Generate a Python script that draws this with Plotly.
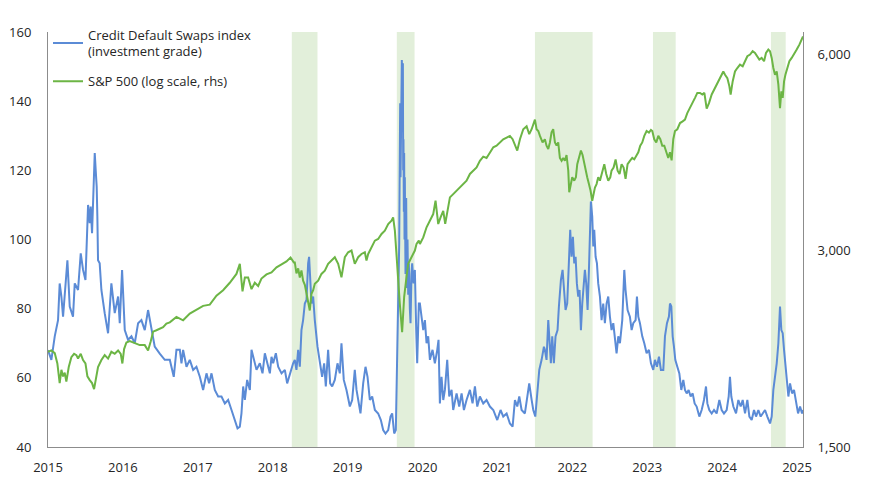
import math
import plotly.graph_objects as go

# x values are decimal years (the year labels sit in the middle of each year)
year_labels = ["2015", "2016", "2017", "2018", "2019", "2020",
               "2021", "2022", "2023", "2024", "2025"]
year_label_pos = [2015.5, 2016.5, 2017.5, 2018.5, 2019.5, 2020.5,
                  2021.5, 2022.5, 2023.5, 2024.5, 2025.5]

# shaded periods
band_start = [2018.755, 2020.157, 2022.001, 2023.577, 2025.152]
band_end = [2019.098, 2020.394, 2022.771, 2023.880, 2025.349]

# Credit Default Swaps index (investment grade), lhs
cds_t_2015 = [2015.500, 2015.545, 2015.590, 2015.634, 2015.656, 2015.679, 2015.701, 2015.723,
              2015.759, 2015.790, 2015.834, 2015.857, 2015.901, 2015.937, 2015.968, 2016.000,
              2016.035, 2016.057, 2016.070, 2016.088, 2016.106, 2016.124, 2016.137, 2016.150,
              2016.159, 2016.168, 2016.190, 2016.213, 2016.257, 2016.302, 2016.346, 2016.391,
              2016.436, 2016.458, 2016.489, 2016.525, 2016.569, 2016.614, 2016.658, 2016.703,
              2016.747, 2016.792, 2016.836, 2016.881, 2016.925, 2016.992, 2017.059]
cds_v_2015 = [68, 65.2, 72, 76.7, 87.3, 83.5, 77.7, 84.4,
              94, 80.6, 77.7, 87.3, 85.4, 96, 91.2, 88.3,
              110, 104.7, 109.5, 101.8, 114.3, 125, 120, 115.3,
              106.6, 94, 93.1, 85.4, 78.7, 72.9, 87.3, 78.7,
              83.5, 75.8, 91.2, 73.8, 71, 72, 70, 75.8,
              76.7, 73.8, 79.6, 73.8, 69, 67, 65.2]

cds_t_2017 = [2017.126, 2017.179, 2017.215, 2017.260, 2017.282, 2017.304, 2017.349, 2017.393,
              2017.438, 2017.482, 2017.527, 2017.571, 2017.616, 2017.651, 2017.683, 2017.727,
              2017.772, 2017.816, 2017.861, 2017.905, 2017.950, 2017.994, 2018.030, 2018.061,
              2018.083, 2018.106, 2018.128, 2018.159, 2018.195, 2018.217, 2018.248, 2018.284,
              2018.328, 2018.364, 2018.395, 2018.426, 2018.462, 2018.484, 2018.506, 2018.542,
              2018.573, 2018.618, 2018.662, 2018.693, 2018.729, 2018.773]
cds_v_2017 = [65.2, 60.3, 68.1, 68.1, 64.2, 68.1, 63.2, 65.2,
              62.3, 63.2, 60.3, 56.5, 61.3, 58.4, 61.3, 56.5,
              54.6, 54.6, 52.6, 53.6, 50.7, 47.8, 45.4, 45.9,
              49.7, 57.5, 53.6, 59.4, 56.5, 68.1, 65.2, 62.3,
              64.2, 61.3, 67.1, 64.2, 61.3, 66.1, 64.2, 67.1,
              63.2, 61.3, 62.3, 58.4, 61.3, 64.2]

cds_t_2018 = [2018.795, 2018.817, 2018.840, 2018.862, 2018.884, 2018.906, 2018.929, 2018.951,
              2018.973, 2018.986, 2019.004, 2019.018, 2019.040, 2019.062, 2019.098, 2019.129,
              2019.160, 2019.187, 2019.209, 2019.240, 2019.267, 2019.294, 2019.329, 2019.365,
              2019.396, 2019.418, 2019.449, 2019.485, 2019.530, 2019.561, 2019.596, 2019.619,
              2019.641, 2019.672, 2019.708, 2019.739, 2019.766, 2019.797, 2019.828, 2019.864,
              2019.908, 2019.944, 2019.975, 2020.006, 2020.042, 2020.073, 2020.095, 2020.122,
              2020.144, 2020.162, 2020.175, 2020.189, 2020.197, 2020.202, 2020.207, 2020.215,
              2020.220, 2020.224, 2020.233, 2020.238, 2020.242, 2020.246, 2020.251, 2020.255,
              2020.260, 2020.264, 2020.273, 2020.282, 2020.291, 2020.300, 2020.309, 2020.318,
              2020.331, 2020.340, 2020.353, 2020.362, 2020.380, 2020.398, 2020.416, 2020.429,
              2020.451]
cds_v_2018 = [65.2, 62.3, 68.1, 63.2, 73.8, 76.7, 81.5, 82.5,
              93.1, 95, 87.3, 81.5, 83.5, 76.7, 69, 64.2,
              60.3, 64.2, 57.5, 68.1, 58.4, 57.5, 59.4, 64.2,
              61.3, 70, 59.4, 56.5, 51.7, 53.6, 62.3, 56.5,
              53.6, 49.7, 58.4, 63.2, 60.3, 53.6, 54.6, 50.7,
              49.7, 47.8, 44.9, 43.9, 44.9, 48.8, 49.7, 43.9,
              44.9, 64.2, 73.8, 98.9, 125, 139.4, 118, 137.5,
              128, 151.9, 140, 151, 120, 129, 108, 125,
              100, 118, 90, 112, 86, 100, 84, 93.1,
              80, 75.8, 90, 93.1, 87.3, 91.2, 73.8, 64.2,
              81.5]

cds_t_2020 = [2020.465, 2020.487, 2020.510, 2020.532, 2020.554, 2020.576, 2020.599, 2020.634,
              2020.665, 2020.697, 2020.714, 2020.732, 2020.754, 2020.777, 2020.799, 2020.830,
              2020.857, 2020.888, 2020.910, 2020.955, 2020.990, 2021.022, 2021.053, 2021.088,
              2021.133, 2021.168, 2021.200, 2021.231, 2021.266, 2021.311, 2021.355, 2021.400,
              2021.445, 2021.498, 2021.542, 2021.578, 2021.623, 2021.667, 2021.703, 2021.734,
              2021.765, 2021.792, 2021.823, 2021.867, 2021.899, 2021.925, 2021.957, 2021.979,
              2022.006, 2022.032, 2022.059, 2022.090, 2022.121]
cds_v_2020 = [81.5, 77.7, 73.8, 76.7, 70, 72, 65.2, 68.1,
              64.2, 68.1, 71, 52.6, 60.3, 53.6, 56.5, 65.2,
              54.6, 56.5, 50.7, 55.5, 51.7, 55.5, 50.7, 53.6,
              56.5, 52.6, 57.5, 51.7, 54.6, 52.6, 53.6, 51.7,
              50.7, 47.8, 50.7, 48.8, 49.7, 46.8, 45.9, 53.6,
              51.7, 54.6, 50.7, 49.7, 54.6, 58.4, 53.6, 50.7,
              48.8, 54.6, 62.3, 65.2, 69]

cds_t_2022 = [2022.134, 2022.156, 2022.179, 2022.196, 2022.214, 2022.232, 2022.254, 2022.276,
              2022.303, 2022.321, 2022.348, 2022.370, 2022.388, 2022.410, 2022.432, 2022.455,
              2022.472, 2022.490, 2022.508, 2022.526, 2022.544, 2022.561, 2022.579, 2022.597,
              2022.615, 2022.633, 2022.650, 2022.668, 2022.686, 2022.704, 2022.722, 2022.735,
              2022.748, 2022.766, 2022.780, 2022.793, 2022.811, 2022.829, 2022.846, 2022.869,
              2022.891, 2022.913, 2022.935, 2022.958, 2022.980, 2023.002, 2023.024, 2023.047,
              2023.069, 2023.091, 2023.114, 2023.136, 2023.167, 2023.194, 2023.211, 2023.238,
              2023.269, 2023.292, 2023.314, 2023.345, 2023.363, 2023.381, 2023.403, 2023.434,
              2023.461, 2023.492, 2023.523, 2023.550, 2023.581, 2023.603, 2023.630, 2023.657,
              2023.683, 2023.715, 2023.737, 2023.764, 2023.790]
cds_v_2022 = [68.1, 65.2, 76.7, 70, 64.2, 72, 64.2, 72,
              73.8, 80.6, 88.3, 91.2, 85.4, 79.6, 81.5, 93.1,
              102.8, 95, 100.8, 93.1, 95, 87.3, 83.5, 85.4,
              73.8, 81.5, 87.3, 91.2, 87.3, 79.6, 91.2, 102.8,
              111, 106.6, 98, 102.8, 95, 93.1, 87.3, 83.5,
              76.7, 81.5, 75.8, 81.5, 83.5, 77.7, 73.8, 75.8,
              71, 67.1, 72, 70, 76.7, 91.2, 85.4, 79.6,
              77.7, 73.8, 75.8, 76.7, 83.5, 77.7, 75.8, 72,
              70, 67.1, 68.1, 64.2, 62.3, 65.2, 63.2, 66.1,
              62.3, 62.3, 72, 75.8, 77.7]

cds_t_2023 = [2023.804, 2023.822, 2023.840, 2023.857, 2023.875, 2023.902, 2023.929, 2023.955,
              2023.982, 2024.004, 2024.027, 2024.053, 2024.080, 2024.107, 2024.133, 2024.160,
              2024.196, 2024.227, 2024.258, 2024.285, 2024.303, 2024.329, 2024.361, 2024.392,
              2024.427, 2024.463, 2024.494, 2024.525, 2024.561, 2024.588, 2024.605, 2024.623,
              2024.650, 2024.686, 2024.717, 2024.748, 2024.775, 2024.806, 2024.837, 2024.864,
              2024.895, 2024.926, 2024.953, 2024.984, 2025.015, 2025.042, 2025.073, 2025.104,
              2025.140, 2025.162, 2025.184, 2025.206, 2025.229, 2025.251, 2025.273, 2025.291,
              2025.309, 2025.327, 2025.345, 2025.362, 2025.385, 2025.407, 2025.434, 2025.460,
              2025.487, 2025.514, 2025.541, 2025.567, 2025.580]
cds_v_2023 = [81.5, 80.6, 72, 69, 65.2, 63.2, 61.3, 56.5,
              59.4, 56.5, 55.5, 56.5, 54.6, 55.5, 52.6, 51.7,
              48.8, 50.7, 53.6, 57.5, 52.6, 50.7, 49.7, 50.7,
              49.7, 53.6, 50.7, 49.7, 50.7, 54.6, 60.3, 54.6,
              51.7, 49.7, 53.6, 51.7, 53.6, 49.7, 53.6, 48.8,
              47.8, 50.7, 48.8, 50.7, 48.8, 49.7, 50.7, 48.8,
              46.8, 48.8, 56.5, 60.3, 64.2, 70, 80.6, 73.8,
              72.9, 68.1, 64.2, 58.4, 54.6, 58.4, 55.5, 56.5,
              53.6, 49.7, 51.7, 49.7, 50.7]

# S&P 500, rhs (log scale)
spx_t_2015 = [2015.500, 2015.545, 2015.590, 2015.625, 2015.656, 2015.679, 2015.701, 2015.723,
              2015.745, 2015.777, 2015.812, 2015.848, 2015.879, 2015.901, 2015.937, 2015.968,
              2016.000, 2016.026, 2016.057, 2016.088, 2016.115, 2016.137, 2016.168, 2016.213,
              2016.257, 2016.302, 2016.346, 2016.391, 2016.436, 2016.471, 2016.493, 2016.516,
              2016.547, 2016.591, 2016.636, 2016.680, 2016.725, 2016.792, 2016.836, 2016.872,
              2016.903, 2016.948, 2016.992, 2017.037, 2017.081]
spx_v_2015 = [2100, 2110, 2090, 2015, 1880, 1970, 1925, 1950,
              1890, 1990, 2060, 2085, 2075, 2050, 2085, 2040,
              2015, 1925, 1900, 1880, 1840, 1900, 1990, 2040,
              2075, 2050, 2100, 2085, 2110, 2085, 2015, 2120,
              2170, 2180, 2170, 2160, 2150, 2150, 2110, 2180,
              2255, 2266, 2280, 2290, 2320]

spx_t_2017 = [2017.126, 2017.215, 2017.304, 2017.393, 2017.482, 2017.571, 2017.660, 2017.749,
              2017.838, 2017.927, 2018.016, 2018.061, 2018.097, 2018.128, 2018.172, 2018.217,
              2018.261, 2018.306, 2018.350, 2018.417, 2018.484, 2018.551, 2018.618, 2018.684,
              2018.738, 2018.782]
spx_v_2017 = [2330, 2375, 2347, 2403, 2440, 2470, 2480, 2560,
              2610, 2680, 2765, 2865, 2600, 2730, 2730, 2620,
              2680, 2650, 2720, 2760, 2780, 2830, 2860, 2890,
              2930, 2880]

spx_t_2018 = [2018.795, 2018.817, 2018.840, 2018.862, 2018.884, 2018.906, 2018.929, 2018.951,
              2018.973, 2018.995, 2019.018, 2019.040, 2019.062, 2019.107, 2019.151, 2019.196,
              2019.240, 2019.285, 2019.329, 2019.374, 2019.418, 2019.463, 2019.507, 2019.552,
              2019.596, 2019.641, 2019.685, 2019.730, 2019.752, 2019.775, 2019.819, 2019.864,
              2019.908, 2019.953, 2019.997, 2020.042, 2020.086, 2020.108, 2020.131, 2020.153,
              2020.175, 2020.197, 2020.228, 2020.255, 2020.286, 2020.309, 2020.331, 2020.353,
              2020.376, 2020.398, 2020.420, 2020.451]
spx_v_2018 = [2880, 2770, 2820, 2730, 2800, 2700, 2660, 2578,
              2490, 2430, 2578, 2610, 2670, 2700, 2765, 2797,
              2865, 2899, 2933, 2865, 2733, 2933, 2985, 3003,
              2865, 2933, 2967, 2985, 2899, 2967, 3038, 3110,
              3128, 3184, 3222, 3298, 3337, 3377, 3222, 2933,
              2670, 2488, 2250, 2548, 2733, 2865, 2899, 2933,
              2967, 3003, 3073, 3110]

spx_t_2020 = [2020.465, 2020.510, 2020.554, 2020.599, 2020.643, 2020.674, 2020.710, 2020.741,
              2020.777, 2020.803, 2020.830, 2020.866, 2020.910, 2020.955, 2021.000, 2021.044,
              2021.088, 2021.133, 2021.177, 2021.222, 2021.266, 2021.311, 2021.355, 2021.400,
              2021.445, 2021.489, 2021.534, 2021.578, 2021.623, 2021.667, 2021.703, 2021.734,
              2021.765, 2021.801, 2021.845, 2021.890, 2021.925, 2021.957, 2021.979, 2022.001,
              2022.023, 2022.046, 2022.068, 2022.103]
spx_v_2020 = [3073, 3146, 3260, 3337, 3416, 3581, 3298, 3377,
              3456, 3300, 3456, 3623, 3666, 3709, 3753, 3798,
              3844, 3936, 3982, 4027, 4123, 4185, 4165, 4250,
              4326, 4350, 4400, 4450, 4477, 4503, 4450, 4350,
              4276, 4450, 4610, 4660, 4530, 4610, 4685, 4770,
              4610, 4581, 4503, 4400]

spx_t_2022 = [2022.134, 2022.156, 2022.179, 2022.201, 2022.223, 2022.245, 2022.268, 2022.290,
              2022.312, 2022.334, 2022.357, 2022.379, 2022.401, 2022.423, 2022.446, 2022.459,
              2022.481, 2022.499, 2022.526, 2022.548, 2022.566, 2022.588, 2022.615, 2022.637,
              2022.659, 2022.677, 2022.699, 2022.722, 2022.744, 2022.766, 2022.784, 2022.802,
              2022.824, 2022.846, 2022.869, 2022.900, 2022.927, 2022.953, 2022.980, 2023.007,
              2023.024, 2023.051, 2023.078, 2023.105, 2023.131, 2023.158, 2023.185, 2023.211,
              2023.238, 2023.269, 2023.300, 2023.327, 2023.354, 2023.381, 2023.407, 2023.434,
              2023.461, 2023.492, 2023.523, 2023.550, 2023.568, 2023.594, 2023.621, 2023.648,
              2023.675, 2023.701, 2023.728, 2023.755, 2023.781]
spx_v_2022 = [4450, 4350, 4300, 4400, 4560, 4610, 4400, 4350,
              4400, 4165, 4123, 4165, 4123, 4209, 3982, 3690,
              3798, 3890, 3844, 3890, 4074, 4165, 4276, 4209,
              4074, 3982, 3890, 3798, 3709, 3581, 3666, 3753,
              3798, 3890, 3844, 3982, 4074, 3936, 3844, 3890,
              3982, 4027, 4144, 3982, 3936, 4074, 4027, 3870,
              4074, 4123, 4165, 4144, 4209, 4250, 4350, 4400,
              4503, 4581, 4555, 4600, 4581, 4450, 4400, 4503,
              4450, 4350, 4350, 4250, 4165]

spx_t_2023 = [2023.804, 2023.826, 2023.848, 2023.871, 2023.902, 2023.938, 2023.973, 2024.004,
              2024.035, 2024.071, 2024.107, 2024.138, 2024.169, 2024.205, 2024.236, 2024.263,
              2024.294, 2024.325, 2024.361, 2024.392, 2024.427, 2024.463, 2024.494, 2024.516,
              2024.539, 2024.570, 2024.597, 2024.614, 2024.641, 2024.672, 2024.703, 2024.739,
              2024.775, 2024.806, 2024.837, 2024.873, 2024.908, 2024.939, 2024.971, 2024.997,
              2025.028, 2025.060, 2025.086, 2025.117, 2025.140, 2025.162, 2025.184, 2025.206,
              2025.229, 2025.251, 2025.273, 2025.291, 2025.309, 2025.327, 2025.345, 2025.371,
              2025.398, 2025.429, 2025.460, 2025.496, 2025.532, 2025.563, 2025.580]
spx_v_2023 = [4250, 4130, 4450, 4581, 4610, 4712, 4740, 4770,
              4880, 4967, 5055, 5151, 5242, 5242, 5212, 5242,
              4960, 5055, 5212, 5303, 5398, 5523, 5588, 5654,
              5588, 5523, 5366, 5212, 5459, 5654, 5723, 5793,
              5759, 5861, 5966, 6001, 6073, 6037, 5966, 5896,
              5931, 5861, 6037, 6108, 6073, 5931, 5723, 5588,
              5654, 5398, 4967, 5272, 5151, 5459, 5588, 5723,
              5861, 5931, 6001, 6108, 6216, 6327, 6400]

cds_year = cds_t_2015 + cds_t_2017 + cds_t_2018 + cds_t_2020 + cds_t_2022 + cds_t_2023
cds_value = cds_v_2015 + cds_v_2017 + cds_v_2018 + cds_v_2020 + cds_v_2022 + cds_v_2023
spx_year = spx_t_2015 + spx_t_2017 + spx_t_2018 + spx_t_2020 + spx_t_2022 + spx_t_2023
spx_value = spx_v_2015 + spx_v_2017 + spx_v_2018 + spx_v_2020 + spx_v_2022 + spx_v_2023
assert len(cds_year) == len(cds_value)
assert len(spx_year) == len(spx_value)

blue = "#5B8BD6"
green = "#6CB545"
axis_grey = "#8C8C8C"
font = dict(family="Open Sans, sans-serif", size=13, color="#262626")

fig = go.Figure()

for s, e in zip(band_start, band_end):
    fig.add_vrect(x0=s, x1=e, fillcolor="#E2EFDA", opacity=1,
                  line_width=0, layer="below")

fig.add_trace(go.Scatter(x=cds_year, y=cds_value, mode="lines", legendgroup="cds",
                         line=dict(color=blue, width=2),
                         name="Credit Default Swaps index<br>(investment grade)"))
fig.add_trace(go.Scatter(x=spx_year, y=spx_value, mode="lines", yaxis="y2", legendgroup="spx",
                         line=dict(color=green, width=2),
                         name="S&P 500 (log scale, rhs)"))

# the page body has an 8px margin, so margins are set 8px smaller
fig.update_layout(
    width=860, height=480,
    margin=dict(l=40, r=65, t=24, b=41),
    paper_bgcolor="white", plot_bgcolor="white",
    font=font,
    showlegend=True,
    legend=dict(x=0.0, y=1.03, xanchor="left", yanchor="top",
                bgcolor="rgba(0,0,0,0)", traceorder="grouped", tracegroupgap=10,
                font=dict(size=13)),
    xaxis=dict(range=[2015.5, 2025.58], tickvals=year_label_pos, ticktext=year_labels,
               showgrid=False, zeroline=False, showline=True, linecolor=axis_grey,
               ticks="", ticklabelstandoff=8, automargin=False),
    yaxis=dict(range=[40, 160], dtick=20, showgrid=False, zeroline=False,
               showline=True, linecolor=axis_grey, ticks="", ticklabelstandoff=13,
               automargin=False),
    yaxis2=dict(type="log", overlaying="y", side="right",
                range=[math.log10(1500), math.log10(6500)],
                tickvals=[1500, 3000, 6000], ticktext=["1,500", "3,000", "6,000"],
                showgrid=False, zeroline=False, showline=True, linecolor=axis_grey,
                ticks="", ticklabelstandoff=11, automargin=False),
)

fig.write_html("out.html")
